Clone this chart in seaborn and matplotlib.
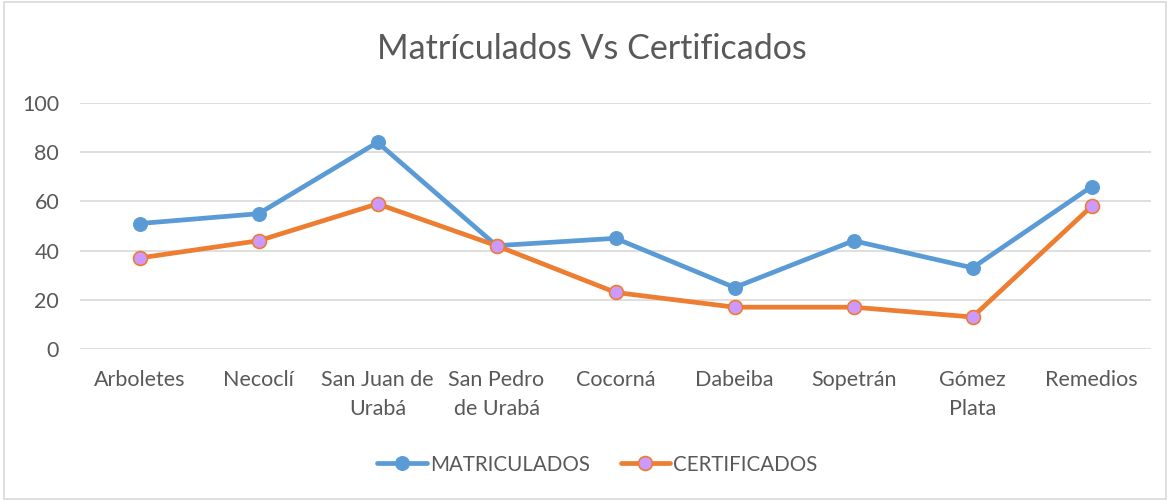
import matplotlib
matplotlib.use("Agg")
import matplotlib.pyplot as plt
import seaborn as sns
import pandas as pd
from matplotlib.patches import Rectangle

categories = ["Arboletes", "Necoclí", "San Juan de\nUrabá", "San Pedro\nde Urabá",
              "Cocorná", "Dabeiba", "Sopetrán", "Gómez\nPlata", "Remedios"]
matriculados = [51, 55, 84, 42, 45, 25, 44, 33, 66]
certificados = [37, 44, 59, 42, 23, 17, 17, 13, 58]
series_names = ["MATRICULADOS", "CERTIFICADOS"]
y_ticks = [0, 20, 40, 60, 80, 100]

sns.set_theme(style="white")
plt.rcParams['font.family'] = ['Lato', 'DejaVu Sans']
TXT = "#595959"

fig = plt.figure(figsize=(11.7, 5.0), dpi=100)
ax = fig.add_axes([0.0684, 0.302, 0.9154, 0.492])

pos = list(range(len(categories)))
df_m = pd.DataFrame({"x": pos, "y": matriculados})
df_c = pd.DataFrame({"x": pos, "y": certificados})

sns.lineplot(data=df_m, x="x", y="y", ax=ax, color="#5b9bd5", linewidth=3.4,
             marker="o", markersize=10, markerfacecolor="#5b9bd5",
             markeredgecolor="#5b9bd5", label=series_names[0], sort=False, zorder=3)
sns.lineplot(data=df_c, x="x", y="y", ax=ax, color="#ed7d31", linewidth=3.4,
             marker="o", markersize=10, markerfacecolor="#cc99ff",
             markeredgecolor="#ed7d31", markeredgewidth=1.2,
             label=series_names[1], sort=False, zorder=4)

ax.set_xlim(-0.5, len(categories) - 0.5)
ax.set_ylim(0, 100)
ax.set_yticks(y_ticks)
ax.set_xticks(pos)
ax.set_xticklabels(categories, fontsize=15.5, color=TXT, linespacing=1.55)
ax.set_yticklabels([str(v) for v in y_ticks], fontsize=15.5, color=TXT)
ax.tick_params(axis="x", length=0, pad=15)
ax.tick_params(axis="y", length=0, pad=15)
ax.set_xlabel("")
ax.set_ylabel("")
ax.grid(axis="y", color="#d9d9d9", linewidth=1.2)
ax.set_axisbelow(True)
for s in ax.spines.values():
    s.set_visible(False)

fig.text(0.506, 0.902, "Matrículados Vs Certificados", ha="center", va="center",
         fontsize=24.5, color=TXT)

leg = ax.legend(loc="center", bbox_to_anchor=(0.483, -0.47), ncol=2, frameon=False,
                fontsize=14.8, handlelength=2.4, columnspacing=1.5, handletextpad=0.15,
                bbox_transform=ax.transAxes)
for t in leg.get_texts():
    t.set_color(TXT)

fig.patches.append(Rectangle((0.003, 0.003), 0.994, 0.994, transform=fig.transFigure,
                             fill=False, edgecolor="#d9d9d9", linewidth=1.2))

fig.savefig("out.png", dpi=100, facecolor="white")
